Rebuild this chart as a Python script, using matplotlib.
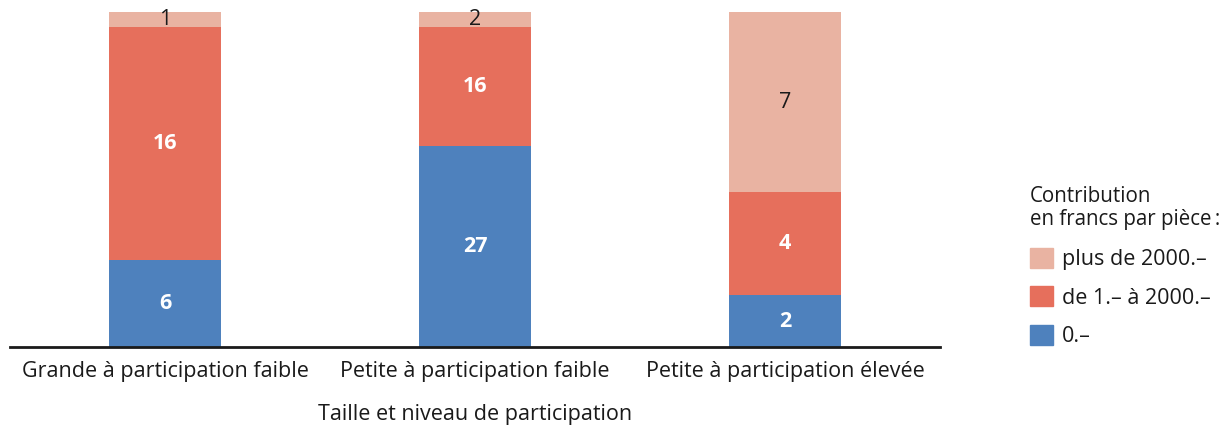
import numpy as np
import matplotlib.pyplot as plt
from matplotlib.patches import Patch

plt.rcParams['font.family'] = ['Open Sans', 'DejaVu Sans']

categories = ['Grande à participation faible', 'Petite à participation faible',
              'Petite à participation élevée']
zero = [6, 27, 2]
low = [16, 16, 4]
high = [1, 2, 7]
series_labels = ['0.–', 'de 1.– à 2000.–', 'plus de 2000.–']
colors = ['#4e81bd', '#e66f5c', '#e9b3a2']
text_colors = ['white', 'white', '#1a1a1a']
text_weights = ['bold', 'bold', 'normal']

fig = plt.figure(figsize=(12.3, 4.25), dpi=100)
ax = fig.add_axes([10 / 1230, 78 / 425, 930 / 1230, 335 / 425])

data = np.array([zero, low, high], dtype=float)
totals = data.sum(axis=0)
shares = data / totals
x = np.arange(len(categories))
bottom = np.zeros(len(categories))
for i in range(3):
    ax.bar(x, shares[i], 0.36, bottom=bottom, color=colors[i], linewidth=0)
    for j in range(len(categories)):
        ax.text(x[j], bottom[j] + shares[i][j] / 2, str(int(data[i][j])),
                ha='center', va='center', fontsize=15.5, color=text_colors[i],
                fontweight=text_weights[i])
    bottom += shares[i]

ax.set_xlim(-0.5, 2.5)
ax.set_ylim(0, 1)
for s in ['top', 'right', 'left']:
    ax.spines[s].set_visible(False)
ax.spines['bottom'].set_linewidth(2)
ax.spines['bottom'].set_color('#1a1a1a')
ax.set_yticks([])
ax.set_xticks(x)
ax.set_xticklabels(categories, fontsize=15.5, color='#1a1a1a')
ax.tick_params(axis='x', length=0, pad=10)
ax.set_xlabel('Taille et niveau de participation', fontsize=15.5, color='#1a1a1a',
              labelpad=16)

# legend title as separate text
fig.text(1030 / 1230, 1 - 186 / 425, 'Contribution\nen francs par pièce\u2009:', ha='left', va='top',
         fontsize=14.8, color='#1a1a1a', linespacing=1.12)
handles = [Patch(color=colors[i], label=series_labels[i]) for i in [2, 1, 0]]
leg = fig.legend(handles=handles, loc='upper left', bbox_to_anchor=(1030 / 1230, 1 - 248 / 425),
                 frameon=False, fontsize=15.5, handlelength=1.05, handleheight=1.05,
                 handletextpad=0.45, labelspacing=0.75, borderpad=0, borderaxespad=0)
for t in leg.get_texts():
    t.set_color('#1a1a1a')

fig.savefig('out.png', dpi=100)
